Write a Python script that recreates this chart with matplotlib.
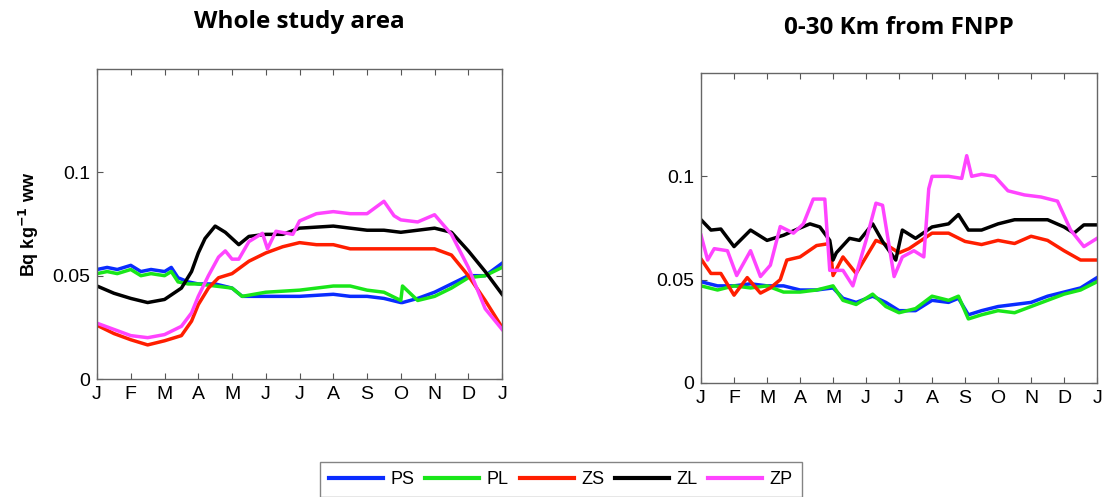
import matplotlib.pyplot as plt
from matplotlib.lines import Line2D

plt.rcParams['font.family'] = ['Liberation Sans', 'DejaVu Sans']

# ---------------- data (month position, Bq/kg ww) ----------------
months = ['J', 'F', 'M', 'A', 'M', 'J', 'J', 'A', 'S', 'O', 'N', 'D', 'J']

# whole study area
ps_x = [0, 0.3, 0.6, 1.0, 1.3, 1.6, 2.0, 2.2, 2.4, 2.7, 3.0, 3.5, 4.0, 4.3, 5, 6, 7, 7.5, 8, 8.5, 9, 9.05, 9.5, 10, 10.5, 11, 11.5, 12]
ps_y = [0.053, 0.054, 0.053, 0.055, 0.052, 0.053, 0.052, 0.054, 0.049, 0.047, 0.046, 0.046, 0.044, 0.040, 0.040,
        0.040, 0.041, 0.040, 0.040, 0.039, 0.037, 0.037, 0.039, 0.042, 0.046, 0.050, 0.050, 0.056]
pl_y = [0.051, 0.052, 0.051, 0.053, 0.050, 0.051, 0.050, 0.052, 0.047, 0.046, 0.046, 0.045, 0.044, 0.040, 0.042,
        0.043, 0.045, 0.045, 0.043, 0.042, 0.038, 0.045, 0.038, 0.040, 0.044, 0.049, 0.050, 0.054]

zs_x = [0, 0.5, 1, 1.5, 2, 2.5, 2.8, 3.0, 3.3, 3.6, 4, 4.5, 5, 5.5, 6, 6.5, 7, 7.5, 8, 8.5, 9, 9.5, 10, 10.5, 11, 11.5, 12]
zs_y = [0.026, 0.022, 0.019, 0.0165, 0.0185, 0.021, 0.028, 0.036, 0.044, 0.049, 0.051, 0.057, 0.061, 0.064, 0.066,
        0.065, 0.065, 0.063, 0.063, 0.063, 0.063, 0.063, 0.063, 0.060, 0.050, 0.038, 0.025]

zl_x = [0, 0.5, 1, 1.5, 2, 2.5, 2.8, 3, 3.2, 3.5, 3.8, 4, 4.2, 4.5, 5, 5.5, 6, 7, 8, 8.5, 9, 9.5, 10, 10.5, 11, 11.5, 12]
zl_y = [0.045, 0.0415, 0.039, 0.037, 0.0385, 0.044, 0.052, 0.061, 0.068, 0.074, 0.071, 0.068, 0.065, 0.069, 0.070,
        0.070, 0.073, 0.074, 0.072, 0.072, 0.071, 0.072, 0.073, 0.071, 0.062, 0.052, 0.041]

zp_x = [0, 0.5, 1, 1.5, 2, 2.5, 2.8, 3, 3.3, 3.6, 3.8, 4.0, 4.2, 4.5, 4.9, 5.05, 5.3, 5.8, 6, 6.5, 7, 7.5, 8, 8.5,
        8.8, 9, 9.5, 10, 10.5, 11, 11.5, 12]
zp_y = [0.027, 0.024, 0.021, 0.020, 0.0215, 0.0255, 0.032, 0.040, 0.050, 0.059, 0.062, 0.058, 0.058, 0.0665, 0.0705,
        0.063, 0.0715, 0.070, 0.0765, 0.080, 0.081, 0.080, 0.080, 0.086, 0.079, 0.077, 0.076, 0.0795, 0.070, 0.054,
        0.034, 0.024]

# 0-30 km from FNPP
ps2_x = [0, 0.5, 1, 1.5, 2, 2.5, 3, 3.5, 4, 4.3, 4.7, 5.2, 5.6, 6, 6.5, 7, 7.5, 7.8, 8.1, 8.5, 9, 9.5, 10, 10.5, 11, 11.5, 12]
ps2_y = [0.049, 0.047, 0.047, 0.048, 0.047, 0.047, 0.045, 0.045, 0.046, 0.041, 0.039, 0.042, 0.039, 0.035, 0.035,
         0.040, 0.039, 0.041, 0.033, 0.035, 0.037, 0.038, 0.039, 0.042, 0.044, 0.046, 0.051]
pl2_y = [0.047, 0.045, 0.047, 0.046, 0.047, 0.044, 0.044, 0.045, 0.047, 0.040, 0.038, 0.043, 0.037, 0.034, 0.036,
         0.042, 0.040, 0.042, 0.031, 0.033, 0.035, 0.034, 0.037, 0.040, 0.043, 0.045, 0.049]

zs2_x = [0, 0.3, 0.6, 1, 1.4, 1.8, 2.1, 2.4, 2.6, 3, 3.5, 3.9, 4.0, 4.3, 4.7, 5, 5.3, 5.6, 6, 6.3, 7, 7.5, 8, 8.5,
         9, 9.5, 10, 10.5, 11, 11.5, 12]
zs2_y = [0.060, 0.053, 0.053, 0.0425, 0.051, 0.0435, 0.046, 0.050, 0.0595, 0.061, 0.0665, 0.0675, 0.052, 0.061, 0.053,
         0.061, 0.069, 0.067, 0.063, 0.065, 0.0725, 0.0725, 0.0685, 0.067, 0.069, 0.0675, 0.071, 0.069, 0.064, 0.0595,
         0.0595]

zl2_x = [0, 0.3, 0.6, 1, 1.5, 2, 2.5, 3, 3.3, 3.6, 3.9, 4.0, 4.1, 4.5, 4.8, 5.2, 5.5, 5.9, 6.1, 6.5, 7, 7.5, 7.8, 8.1,
         8.5, 9, 9.5, 10, 10.5, 11, 11.3, 11.6, 12]
zl2_y = [0.079, 0.074, 0.0745, 0.066, 0.074, 0.069, 0.0715, 0.075, 0.077, 0.0755, 0.069, 0.0595, 0.063, 0.070, 0.069,
         0.077, 0.0685, 0.0595, 0.074, 0.070, 0.0755, 0.077, 0.0815, 0.074, 0.074, 0.077, 0.079, 0.079, 0.079, 0.0755,
         0.0725, 0.0765, 0.0765]

zp2_x = [0, 0.2, 0.4, 0.8, 1.08, 1.5, 1.8, 2.1, 2.4, 2.8, 3.1, 3.4, 3.75, 3.9, 4.3, 4.6, 5.0, 5.3, 5.5, 5.85, 6.1, 6.45,
         6.75, 6.9, 7.0, 7.5, 7.9, 8.05, 8.2, 8.5, 8.9, 9.3, 9.8, 10.3, 10.8, 11.2, 11.6, 12]
zp2_y = [0.0715, 0.0595, 0.065, 0.064, 0.052, 0.064, 0.0515, 0.057, 0.0757, 0.0725, 0.077, 0.089, 0.089, 0.0545, 0.0545,
         0.047, 0.069, 0.087, 0.086, 0.0515, 0.061, 0.064, 0.061, 0.094, 0.100, 0.100, 0.099, 0.110, 0.100, 0.101,
         0.100, 0.093, 0.091, 0.090, 0.088, 0.074, 0.066, 0.070]

labels = ['PS', 'PL', 'ZS', 'ZL', 'ZP']
colors = ['#0a2cff', '#19e619', '#ff1e00', '#000000', '#ff44ff']

panels = [
    ('Whole study area', [(ps_x, ps_y), (ps_x, pl_y), (zs_x, zs_y), (zl_x, zl_y), (zp_x, zp_y)]),
    ('0-30 Km from FNPP', [(ps2_x, ps2_y), (ps2_x, pl2_y), (zs2_x, zs2_y), (zl2_x, zl2_y), (zp2_x, zp2_y)]),
]

# ---------------- figure ----------------
fig = plt.figure(figsize=(11.14, 4.97), dpi=100)
ax_pos = [[0.0871, 0.2374, 0.3636, 0.6237], [0.6293, 0.2294, 0.3555, 0.6237]]
title_y = [0.955, 0.944]

for i, (title, series) in enumerate(panels):
    ax = fig.add_axes(ax_pos[i])
    for (x, y), c in zip(series, colors):
        ax.plot(x, y, color=c, lw=2.5)
    ax.set_xlim(0, 12)
    ax.set_ylim(0, 0.15)
    ax.set_xticks(range(13))
    ax.set_xticklabels(months)
    ax.set_yticks([0, 0.05, 0.1])
    ax.set_yticklabels(['0', '0.05', '0.1'])
    ax.tick_params(direction='in', top=True, right=True, length=4, labelsize=14,
                   color='#555555', pad=5)
    for s in ax.spines.values():
        s.set_color('#666666')
        s.set_linewidth(1.0)
    cx = ax_pos[i][0] + ax_pos[i][2] / 2
    fig.text(cx, title_y[i], title, ha='center', va='center', fontsize=17.5,
             fontweight='bold', family=['Open Sans', 'DejaVu Sans'])
    if i == 0:
        ax.set_ylabel('Bq kg$^{\\mathbf{-1}}$ ww', fontsize=13, fontweight='bold', labelpad=8)

handles = [Line2D([0], [0], color=c, lw=3) for c in colors]
fig.legend(handles, labels, loc='upper center', bbox_to_anchor=(0.5035, 0.0704), ncol=5,
           frameon=True, fancybox=False, edgecolor='#666666', fontsize=13, borderaxespad=0,
           handlelength=3.0, columnspacing=0.6, handletextpad=0.4, borderpad=0.5)

fig.savefig('out.png', dpi=100)
